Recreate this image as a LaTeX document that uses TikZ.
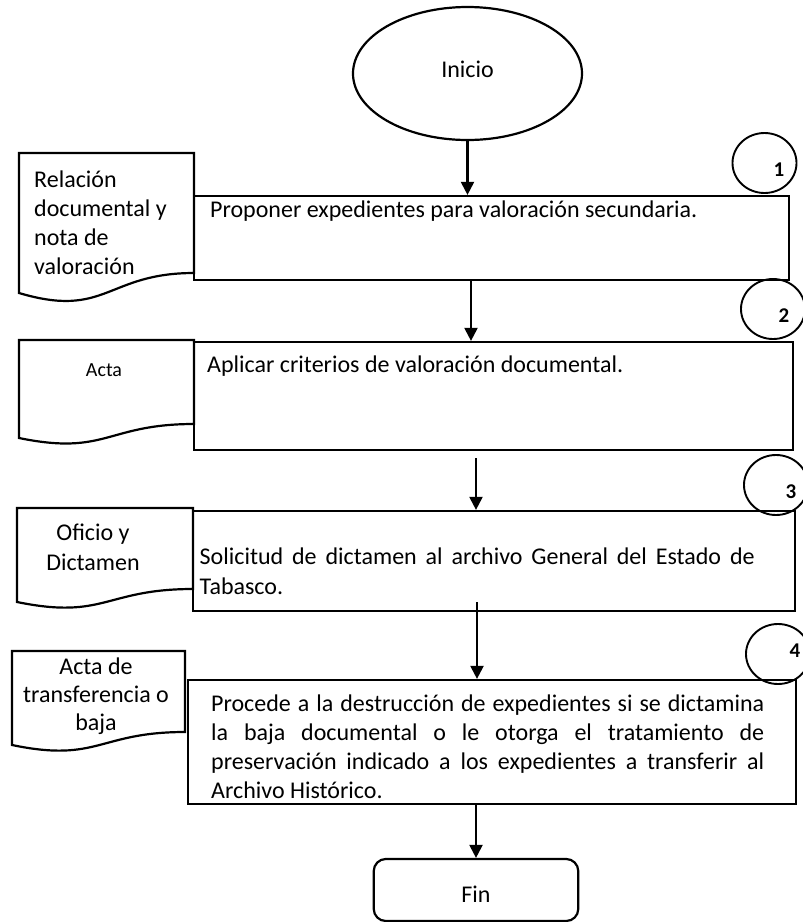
\documentclass[tikz,border=0pt]{standalone}
\usepackage{fontspec}
\setmainfont{Carlito}
\usetikzlibrary{arrows.meta,shapes.geometric,calc}
\tikzset{
 boxstyle/.style={draw, line width=2.2pt, rectangle, inner sep=0pt},
 docline/.style={draw, line width=2.2pt, line join=miter},
 numcirc/.style={draw, ellipse, line width=1.9pt, minimum width=64pt, minimum height=60pt, inner sep=0pt},
 numtxt/.style={font=\fontsize{21}{24}\selectfont\bfseries, anchor=base, inner sep=0pt},
 txt/.style={font=\fontsize{24}{29}\selectfont, inner sep=0pt},
 arr/.style={line width=2.1pt, -{Triangle[length=13pt,width=13pt]}},
}
\begin{document}
\begin{tikzpicture}[x=1pt,y=-1pt]
\useasboundingbox (0,0) rectangle (803,922);

% start
\node[draw, ellipse, line width=2.2pt, minimum width=229pt, minimum height=133pt, inner sep=0pt] (start) at (467.5,73.5) {};
\node[txt, anchor=base] (starttxt) at (467.5,77) {Inicio};

% process boxes
\node[boxstyle, minimum width=595pt, minimum height=84pt] (b1) at (491.5,238) {};
\node[txt, anchor=base west] (b1txt) at (210,217) {Proponer expedientes para valoración secundaria.};

\node[boxstyle, minimum width=599pt, minimum height=108pt] (b2) at (493.5,396) {};
\node[txt, anchor=base west] (b2txt) at (207,372) {Aplicar criterios de valoración documental.};

\node[boxstyle, minimum width=602pt, minimum height=100pt] (b3) at (494,561) {};
\node[txt, anchor=base west] (b3txt) at (199.5,564) {\parbox[t]{555pt}{\fontsize{24}{30}\selectfont
\makebox[\linewidth][s]{Solicitud de dictamen al archivo General del Estado de}\\
Tabasco.}};

\node[boxstyle, minimum width=608pt, minimum height=124pt] (b4) at (492,742) {};
\node[txt, anchor=base west] (b4txt) at (211,711) {\parbox[t]{553pt}{\fontsize{24}{29}\selectfont
\makebox[\linewidth][s]{Procede a la destrucción de expedientes si se dictamina}\\
\makebox[\linewidth][s]{la baja documental o le otorga el tratamiento de}\\
\makebox[\linewidth][s]{preservación indicado a los expedientes a transferir al}\\
Archivo Histórico.}};

% end
\node[draw, rectangle, rounded corners=12pt, line width=2.2pt, minimum width=204.5pt, minimum height=62pt, inner sep=0pt] (fin) at (476,890) {};
\node[txt, anchor=base] (fintxt) at (476,902) {Fin};

% documents
\draw[docline] (19,153) -- (194,153) -- (194,273) .. controls (106.5,273) and (106.5,319) .. (19,293) -- cycle;
\node[txt, anchor=base west] (d1txt) at (34,187) {\parbox[t]{160pt}{\fontsize{24}{29}\selectfont Relación\\documental y\\nota de\\valoración}};

\draw[docline] (19,340) -- (194,340) -- (194,424) .. controls (106.5,424) and (106.5,456) .. (19,438) -- cycle;
\node[font=\fontsize{20}{24}\selectfont, inner sep=0pt, anchor=base] (d2txt) at (104,376) {Acta};

\draw[docline] (17,508) -- (193,508) -- (193,589) .. controls (105,589) and (105,620) .. (17,602) -- cycle;
\node[txt, anchor=base] (d3txt) at (93,540) {\parbox[t]{170pt}{\centering\fontsize{24}{30}\selectfont Oficio y\\Dictamen}};

\draw[docline] (12,651) -- (185,651) -- (185,732) .. controls (98.5,732) and (98.5,763) .. (12,745) -- cycle;
\node[txt, anchor=base] (d4txt) at (96,674) {\parbox[t]{170pt}{\centering\fontsize{24}{28}\selectfont Acta de\\transferencia o\\baja}};

% step circles
\node[numcirc] (c1) at (764.5,163) {};
\node[numtxt] (n1) at (779,176) {1};
\node[numcirc] (c2) at (773,309) {};
\node[numtxt] (n2) at (784,322) {2};
\node[numcirc] (c3) at (776,485) {};
\node[numtxt] (n3) at (791,498) {3};
\node[numcirc] (c4) at (778,654) {};
\node[numtxt] (n4) at (795,657) {4};

% connectors
\coordinate (a3s) at (476,458);
\coordinate (a4s) at (477,602);
\draw[arr] (start.south) -- (start.south |- b1.north);
\draw[arr] ([xshift=-20.5pt]b1.south) -- ([xshift=-20.5pt]b1.south |- b2.north);
\draw[arr] (a3s) -- (a3s |- b3.north);
\draw[arr] (a4s) -- (a4s |- b4.north);
\draw[arr] (b4.south -| fin.north) -- (fin.north);
\end{tikzpicture}
\end{document}
